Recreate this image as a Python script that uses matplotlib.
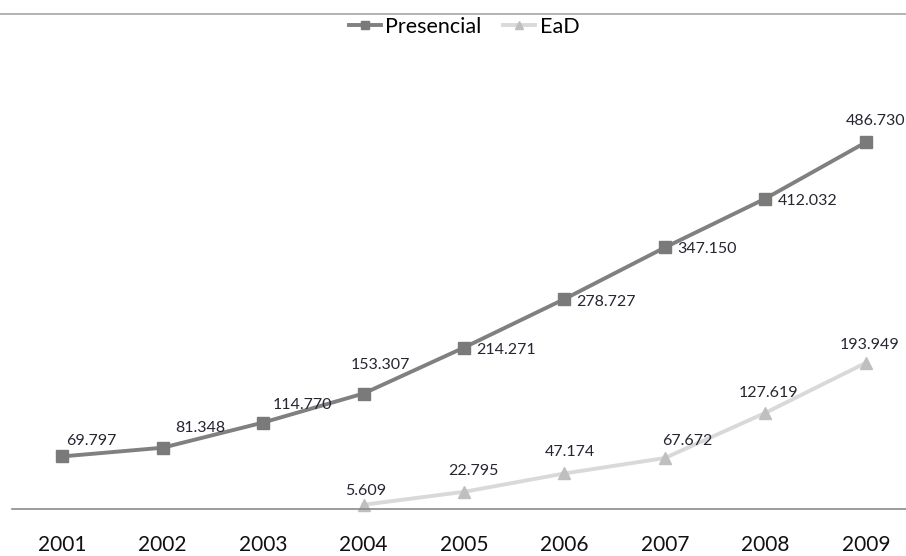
import numpy as np
import matplotlib.pyplot as plt
from matplotlib.lines import Line2D

plt.rcParams['font.family'] = ['Lato', 'DejaVu Sans']

# Matrículas por modalidade (milhares)
anos = ['2001', '2002', '2003', '2004', '2005', '2006', '2007', '2008', '2009']
presencial = [69.797, 81.348, 114.770, 153.307, 214.271, 278.727, 347.150, 412.032, 486.730]
ead_anos = ['2004', '2005', '2006', '2007', '2008', '2009']
ead = [5.609, 22.795, 47.174, 67.672, 127.619, 193.949]

# deslocamento dos rótulos em pixels (dx, dy, alinhamento)
off_pres = [(4, 15, 'left'), (13, 20, 'left'), (10, 18, 'left'), (17, 29, 'center'),
            (12, -2, 'left'), (12, -3, 'left'), (12, -2, 'left'), (12, -2, 'left'),
            (10, 21, 'center')]
off_ead = [(2, 14, 'center'), (9, 21, 'center'), (5, 21, 'center'), (22, 17, 'center'),
           (3, 20, 'center'), (4, 18, 'center')]

x = np.arange(len(anos))
x_ead = np.array([anos.index(a) for a in ead_anos])

fig = plt.figure(figsize=(9.06, 5.56), dpi=100)
ax = fig.add_axes([12/906, 1 - 509/556, 904/906, 452/556])

ax.plot(x, presencial, color='#808080', lw=2.8, marker='s', ms=8,
        mfc='#7a7a7a', mec='#7a7a7a', label='Presencial', clip_on=False)
ax.plot(x_ead, ead, color='#d9d9d9', lw=2.8, marker='^', ms=8,
        mfc='#bfbfbf', mec='#bfbfbf', label='EaD', clip_on=False)

px = 72 / 100  # pixels -> pontos
for xi, v, (dx, dy, ha) in zip(x, presencial, off_pres):
    ax.annotate(f'{v:.3f}', (xi, v), xytext=(dx * px, dy * px), textcoords='offset points',
                ha=ha, va='center', fontsize=11.5, color='#262633')
for xi, v, (dx, dy, ha) in zip(x_ead, ead, off_ead):
    ax.annotate(f'{v:.3f}', (xi, v), xytext=(dx * px, dy * px), textcoords='offset points',
                ha=ha, va='center', fontsize=11.5, color='#262633')

ax.set_xlim(-0.5, 8.5)
ax.set_ylim(0, 600)
ax.set_xticks(x)
ax.set_xticklabels(anos, fontsize=15, color='#111111')
ax.tick_params(axis='x', length=0, pad=19)
ax.set_yticks([])
for s in ['top', 'left', 'right']:
    ax.spines[s].set_visible(False)
ax.spines['bottom'].set_color('#8a8a8a')
ax.spines['bottom'].set_linewidth(1.2)

fig.add_artist(Line2D([0, 1], [1 - 14/556, 1 - 14/556], transform=fig.transFigure,
                      color='#a6a6a6', lw=1.2))

fig.legend(loc='center', bbox_to_anchor=(464/906, 1 - 27/556), ncol=2,
           frameon=False, fontsize=15.5, handlelength=1.5, handletextpad=0.2,
           columnspacing=1.0, markerscale=0.8)

fig.savefig('out.png', dpi=100)
